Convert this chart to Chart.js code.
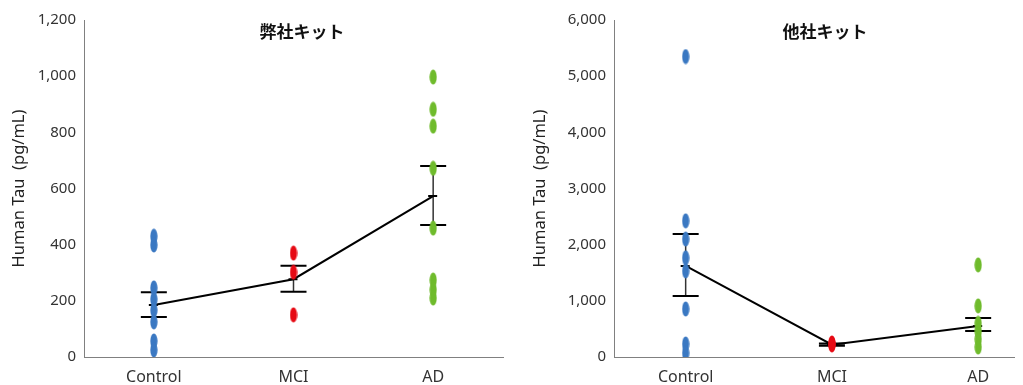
<!DOCTYPE html>
<html>
<head>
<meta charset="utf-8">
<script src="https://cdn.jsdelivr.net/npm/chart.js@4.4.1/dist/chart.umd.min.js"></script>
<style>
  html, body { margin: 0; padding: 0; background: #fff; }
  #wrap { position: relative; width: 1023px; height: 385px; overflow: hidden; }
  .box { position: absolute; top: 0; height: 385px; }
  .ttl { position: absolute; top: 18px; font: bold 17px "Noto Sans CJK JP", sans-serif; color: #111; transform: translateX(-50%); white-space: nowrap; }
</style>
</head>
<body>
<div id="wrap">
  <div class="box" style="left:0;width:512px"><canvas id="c1" width="512" height="385"></canvas></div>
  <div class="box" style="left:512px;width:511px"><canvas id="c2" width="511" height="385"></canvas></div>
  <div class="ttl" style="left:302px">弊社キット</div>
  <div class="ttl" style="left:825px">他社キット</div>
</div>
<script>
// categories
const groups = ['Control', 'MCI', 'AD'];
const groupColors = ['#3a78c2', '#e60a14', '#6fbb2c'];

// left panel (弊社キット), pg/mL
const ourControl = [430, 399, 246, 206, 167, 125, 57, 25];
const ourMCI = [370, 302, 150];
const ourAD = [997, 882, 822, 672, 459, 274, 240, 210];
const ourMean = [185, 277, 573];
const ourHigh = [231, 325, 680];
const ourLow = [142, 232, 470];

// right panel (他社キット), pg/mL
const otherControl = [5350, 2424, 2100, 1765, 1533, 855, 232, 71];
const otherMCI = [250, 232, 215];
const otherAD = [1640, 910, 600, 463, 320, 178];
const otherMean = [1622, 220, 552];
const otherHigh = [2190, 240, 695];
const otherLow = [1085, 200, 463];

const fontFamily = "'Noto Sans', 'Noto Sans CJK JP', sans-serif";

function ellipseDot(color) {
    const c = document.createElement('canvas');
    c.width = 8;
    c.height = 16;
    const g = c.getContext('2d');
    g.fillStyle = color;
    g.beginPath();
    g.ellipse(4, 8, 3.6, 7.6, 0, 0, Math.PI * 2);
    g.fill();
    return c;
}

// mean +/- error bars drawn under the dots
const errorBars = {
    id: 'errorBars',
    beforeDatasetsDraw(chart, args, opts) {
        const ctx = chart.ctx;
        const xs = chart.scales.x, ys = chart.scales.y;
        ctx.save();
        opts.mean.forEach((m, i) => {
            const x = xs.getPixelForValue(i + 1);
            const yh = ys.getPixelForValue(opts.high[i]);
            const yl = ys.getPixelForValue(opts.low[i]);
            const ym = ys.getPixelForValue(m);
            ctx.strokeStyle = '#333';
            ctx.lineWidth = 1.5;
            ctx.beginPath();
            ctx.moveTo(x, yh);
            ctx.lineTo(x, yl);
            ctx.stroke();
            ctx.strokeStyle = '#000';
            ctx.lineWidth = 2;
            ctx.beginPath();
            ctx.moveTo(x - 13, yh); ctx.lineTo(x + 13, yh);
            ctx.moveTo(x - 13, yl); ctx.lineTo(x + 13, yl);
            ctx.moveTo(x - 5, ym); ctx.lineTo(x + 4, ym);
            ctx.stroke();
        });
        ctx.restore();
    }
};

function makePanel(id, series, mean, high, low, yMax, yStep, xMin, xMax, yAxisWidth, titlePad) {
    const datasets = series.map((vals, i) => ({
        type: 'scatter',
        data: vals.map(v => ({ x: i + 1, y: v })),
        pointStyle: ellipseDot(groupColors[i]),
        pointRadius: 8,
        order: 1
    }));
    datasets.push({
        type: 'line',
        data: mean.map((v, i) => ({ x: i + 1, y: v })),
        borderColor: '#000',
        borderWidth: 2,
        pointRadius: 0,
        order: 2
    });

    return new Chart(document.getElementById(id), {
        type: 'scatter',
        data: { datasets: datasets },
        options: {
            responsive: false,
            animation: false,
            layout: { padding: { top: 20, right: 0, bottom: 0, left: 0 } },
            plugins: {
                legend: { display: false },
                tooltip: { enabled: false },
                errorBars: { mean: mean, high: high, low: low }
            },
            scales: {
                x: {
                    type: 'linear',
                    min: xMin,
                    max: xMax,
                    grid: { display: false, drawTicks: false },
                    border: { color: '#808080', width: 1 },
                    afterBuildTicks: (s) => { s.ticks = [{ value: 1 }, { value: 2 }, { value: 3 }]; },
                    afterFit: (s) => { s.height = 28; },
                    ticks: {
                        padding: 11,
                        color: '#333',
                        font: { family: fontFamily, size: 16 },
                        callback: (v) => groups[v - 1] || ''
                    }
                },
                y: {
                    min: 0,
                    max: yMax,
                    grid: { display: false, drawTicks: false },
                    border: { color: '#808080', width: 1 },
                    afterFit: (s) => { s.width = yAxisWidth; },
                    ticks: {
                        stepSize: yStep,
                        padding: 8,
                        color: '#333',
                        font: { family: fontFamily, size: 15 },
                        callback: (v) => v.toLocaleString('en-US')
                    },
                    title: {
                        display: true,
                        text: 'Human Tau  (pg/mL)',
                        color: '#222',
                        padding: { top: titlePad, bottom: 0 },
                        font: { family: fontFamily, size: 16.5 }
                    }
                }
            }
        },
        plugins: [errorBars]
    });
}

makePanel('c1', [ourControl, ourMCI, ourAD], ourMean, ourHigh, ourLow, 1200, 200, 0.5, 3.5, 84, 9);
makePanel('c2', [otherControl, otherMCI, otherAD], otherMean, otherHigh, otherLow, 6000, 1000, 0.51, 3.245, 102, 18);
</script>
</body>
</html>
